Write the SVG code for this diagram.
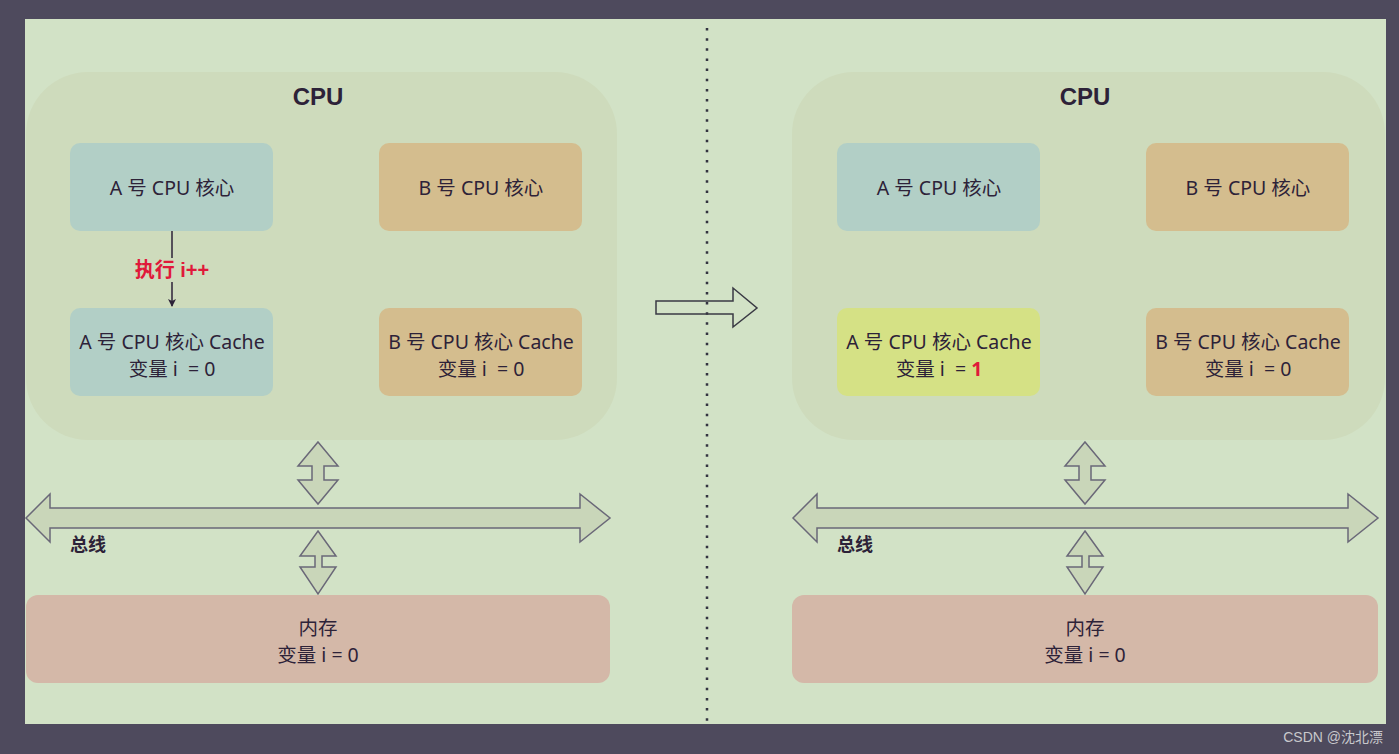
<svg xmlns="http://www.w3.org/2000/svg" width="1399" height="754" viewBox="0 0 1399 754">
<defs>
<style>
.t{font-family:"Comic Sans MS","Noto Sans","Noto Sans CJK SC",sans-serif;font-size:19.5px;fill:#2d2238;text-anchor:middle;white-space:pre}
.b{font-family:"Liberation Sans","Noto Sans CJK SC",sans-serif;font-weight:bold;fill:#2d2238}
.cpu{fill:#cedbbc}
.ca{fill:#b2cfc6}
.cb{fill:#d4bd8e}
.mem{fill:#d4b8a8}
.ar{fill:#c9d6b9;stroke:#6a6878;stroke-width:1.5}
</style>
<marker id="ah" markerWidth="10" markerHeight="10" refX="8" refY="5" orient="auto" markerUnits="userSpaceOnUse">
<path d="M1,1 L9,5 L1,9 L3,5 Z" fill="#2d2238"/>
</marker>
</defs>
<rect x="0" y="0" width="1399" height="754" fill="#4e4a5d"/>
<rect x="25" y="19" width="1361" height="705" fill="#d2e2c6"/>

<g id="left-cpu">
<rect class="cpu" x="26" y="72" width="591" height="368" rx="62"/>
<text class="b" x="318" y="105" font-size="24" text-anchor="middle">CPU</text>
</g>
<g id="left-core-a"><rect class="ca" x="70" y="143" width="203" height="88" rx="10"/><text class="t" x="172" y="195">A 号 CPU 核心</text></g>
<g id="left-core-b"><rect class="cb" x="379" y="143" width="203" height="88" rx="10"/><text class="t" x="481" y="195">B 号 CPU 核心</text></g>
<g id="left-cache-a"><rect class="ca" x="70" y="308" width="203" height="88" rx="10"/><text class="t" x="172" y="349">A 号 CPU 核心 Cache</text><text class="t" x="172" y="376" xml:space="preserve">变量 i  = 0</text></g>
<g id="left-cache-b"><rect class="cb" x="379" y="308" width="203" height="88" rx="10"/><text class="t" x="481" y="349">B 号 CPU 核心 Cache</text><text class="t" x="481" y="376" xml:space="preserve">变量 i  = 0</text></g>
<g id="left-mem"><rect class="mem" x="26" y="595" width="584" height="88" rx="12"/><text class="t" x="318" y="635">内存</text><text class="t" x="318" y="662">变量 i = 0</text></g>

<g id="right-cpu">
<rect class="cpu" x="792" y="72" width="593" height="368" rx="62"/>
<text class="b" x="1085" y="105" font-size="24" text-anchor="middle">CPU</text>
</g>
<g id="right-core-a"><rect class="ca" x="837" y="143" width="203" height="88" rx="10"/><text class="t" x="939" y="195">A 号 CPU 核心</text></g>
<g id="right-core-b"><rect class="cb" x="1146" y="143" width="203" height="88" rx="10"/><text class="t" x="1248" y="195">B 号 CPU 核心</text></g>
<g id="right-cache-a"><rect fill="#d5e185" x="837" y="308" width="203" height="88" rx="10"/><text class="t" x="939" y="349">A 号 CPU 核心 Cache</text><text class="t" x="939" y="376" xml:space="preserve">变量 i  = <tspan fill="#e0193a" font-weight="bold">1</tspan></text></g>
<g id="right-cache-b"><rect class="cb" x="1146" y="308" width="203" height="88" rx="10"/><text class="t" x="1248" y="349">B 号 CPU 核心 Cache</text><text class="t" x="1248" y="376" xml:space="preserve">变量 i  = 0</text></g>
<g id="right-mem"><rect class="mem" x="792" y="595" width="586" height="88" rx="12"/><text class="t" x="1085" y="635">内存</text><text class="t" x="1085" y="662">变量 i = 0</text></g>

<g id="connectors">
<line x1="172" y1="231" x2="172" y2="258" stroke="#2d2238" stroke-width="1.5"/>
<line x1="172" y1="282" x2="172" y2="306" stroke="#2d2238" stroke-width="1.5" marker-end="url(#ah)"/>
<text class="b" x="172" y="277" font-size="20" style="fill:#e0193a" text-anchor="middle">执行 i++</text>

<path class="ar" d="M26,518 L50,494 L50,508 L580,508 L580,494 L610,518 L580,542 L580,528 L50,528 L50,542 Z"/>
<path class="ar" d="M318,442 L338,466 L324,466 L324,480 L338,480 L318,504 L298,480 L312,480 L312,466 L298,466 Z"/>
<path class="ar" d="M318,531 L336,556 L322,556 L322,567 L336,567 L318,594 L300,567 L315,567 L315,556 L300,556 Z"/>
<text class="b" x="70" y="551" font-size="18">总线</text>

<path class="ar" d="M793,518 L817,494 L817,508 L1348,508 L1348,494 L1378,518 L1348,542 L1348,528 L817,528 L817,542 Z"/>
<path class="ar" d="M1085,442 L1105,466 L1091,466 L1091,480 L1105,480 L1085,504 L1065,480 L1079,480 L1079,466 L1065,466 Z"/>
<path class="ar" d="M1085,531 L1103,556 L1089,556 L1089,567 L1103,567 L1085,594 L1067,567 L1082,567 L1082,556 L1067,556 Z"/>
<text class="b" x="837" y="551" font-size="18">总线</text>

<line x1="707" y1="28" x2="707" y2="722" stroke="#333340" stroke-width="2.5" stroke-dasharray="2.5 7.65"/>
<path d="M656,301 L733,301 L733,288 L757,308 L733,327 L733,314 L656,314 Z" fill="none" stroke="#3a3a44" stroke-width="1.5"/>
</g>
<text x="1383" y="742" font-family="Liberation Sans,Noto Sans CJK SC,sans-serif" font-size="14" fill="#c8c8cc" text-anchor="end">CSDN @沈北漂</text>
</svg>
